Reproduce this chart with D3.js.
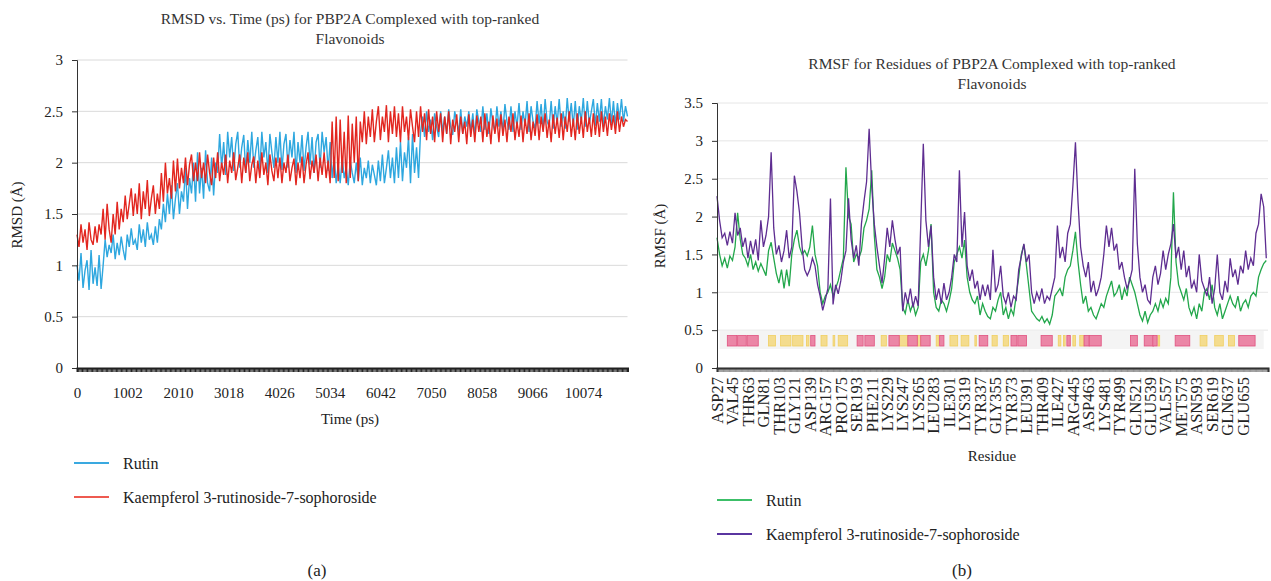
<!DOCTYPE html>
<html>
<head>
<meta charset="UTF-8">
<script src="https://cdnjs.cloudflare.com/ajax/libs/d3/7.8.5/d3.min.js"></script>
<style>
  html, body { margin: 0; padding: 0; background: #fff; }
  svg { display: block; }
</style>
</head>
<body>
<svg id="fig" width="1271" height="581"></svg>
<script>
// ---------- panel (a): RMSD vs time, one sample every 40 ps ----------
const rmsdStep = 40;
const rutinRmsd = [
  1.0, 0.85, 1.12, 0.78, 0.95, 1.05, 0.76, 1.15, 0.82, 0.98,
  0.8, 1.1, 0.77, 1.0, 1.25, 1.08, 1.2, 1.12, 1.3, 1.06,
  1.22, 1.1, 1.28, 1.15, 1.05, 1.3, 1.18, 1.36, 1.2, 1.25,
  1.15, 1.4, 1.22, 1.35, 1.18, 1.42, 1.25, 1.3, 1.2, 1.38,
  1.22, 1.45, 1.35, 1.6, 1.42, 1.7, 1.5, 1.78, 1.45, 1.65,
  1.8, 1.5, 1.72, 1.62, 1.95, 1.55, 1.85, 1.7, 2.0, 1.62,
  2.1, 1.7, 1.95, 1.65, 2.12, 1.8, 1.72, 2.05, 1.68, 2.0,
  1.9, 2.28, 1.95, 2.2, 1.88, 2.3, 2.05, 2.25, 1.92, 2.18,
  2.3, 1.95, 2.15, 2.27, 1.9, 2.22, 2.0, 2.3, 1.95, 2.12,
  2.25, 1.92, 2.3, 2.05, 2.2, 1.9, 2.28, 2.1, 1.95, 2.25,
  2.0, 2.3, 1.93, 2.18, 2.28, 1.95, 2.22, 2.05, 2.3, 1.9,
  2.2, 2.0, 2.27, 1.92, 2.15, 2.3, 1.98, 2.25, 1.9, 2.2,
  2.28, 1.95, 2.3, 2.1, 2.25, 1.92, 2.2, 1.85, 2.05, 1.8,
  1.98, 1.8, 2.05, 1.85, 1.95, 1.78, 2.02, 1.9, 1.8, 2.0,
  1.82, 2.05, 1.78, 1.95, 1.85, 2.02, 1.8, 1.98, 1.88, 1.78,
  2.02, 1.82, 2.08, 1.8, 1.95, 2.12, 1.85, 2.05, 1.8, 2.15,
  1.85, 2.2, 1.82, 2.1, 1.95, 2.25, 1.8, 2.28, 1.9, 2.15,
  1.85, 2.3, 2.45, 2.25, 2.5, 2.3, 2.42, 2.22, 2.48, 2.35,
  2.25, 2.5, 2.3, 2.45, 2.28, 2.52, 2.35, 2.27, 2.5, 2.4,
  2.3, 2.52, 2.28, 2.45, 2.35, 2.5, 2.3, 2.48, 2.26, 2.52,
  2.4, 2.3, 2.55, 2.32, 2.48, 2.28, 2.53, 2.38, 2.3, 2.55,
  2.35, 2.5, 2.3, 2.57, 2.4, 2.32, 2.55, 2.3, 2.5, 2.35,
  2.58, 2.32, 2.5, 2.36, 2.6, 2.3, 2.55, 2.4, 2.33, 2.6,
  2.38, 2.57, 2.32, 2.62, 2.4, 2.35, 2.6, 2.33, 2.55, 2.38,
  2.62, 2.35, 2.5, 2.33, 2.63, 2.4, 2.58, 2.35, 2.6, 2.32,
  2.55, 2.4, 2.63, 2.35, 2.6, 2.38, 2.5, 2.62, 2.36, 2.58,
  2.4, 2.62, 2.35, 2.55, 2.42, 2.63, 2.38, 2.6, 2.36, 2.58,
  2.42, 2.62, 2.4, 2.55, 2.45
];
const kaempRmsd = [
  1.3, 1.18, 1.4, 1.22, 1.35, 1.15, 1.42, 1.25, 1.2, 1.38,
  1.22, 1.4, 1.3, 1.55, 1.25, 1.6, 1.35, 1.22, 1.5, 1.3,
  1.62, 1.35, 1.55, 1.42, 1.68, 1.45, 1.6, 1.75, 1.48, 1.7,
  1.5, 1.8, 1.45, 1.72, 1.55, 1.83, 1.48, 1.65, 1.78, 1.5,
  1.7, 1.55, 1.9, 1.62, 2.0, 1.7, 1.85, 1.65, 2.02, 1.72,
  2.04, 1.75, 1.95, 1.8, 2.05, 1.78, 1.98, 2.08, 1.82, 2.0,
  1.82, 2.1, 1.85, 2.0, 1.8, 2.08, 1.9, 1.78, 2.05, 1.85,
  2.1, 1.82, 2.0, 1.88, 2.08, 1.8, 2.02, 1.9, 2.1, 1.83,
  1.95, 2.08, 1.8, 2.05, 1.9, 2.1, 1.82, 1.98, 2.06, 1.8,
  2.02, 1.85, 2.1, 1.88, 2.0, 1.78, 2.08, 1.92, 1.82, 2.05,
  1.85, 2.05, 1.8, 2.0, 1.9, 2.08, 1.82, 1.95, 2.04, 1.78,
  2.0, 1.85, 2.06, 1.8, 1.98, 2.1, 1.84, 2.02, 1.9, 2.08,
  1.82, 2.05, 1.88, 2.1, 1.85, 2.02, 1.8, 2.4, 1.85, 2.45,
  1.82, 2.42, 1.9, 2.3, 1.8, 2.46, 1.85, 2.38, 2.0, 2.45,
  1.82, 2.4, 2.2, 2.5, 2.18, 2.45, 2.25, 2.52, 2.2, 2.4,
  2.55, 2.22, 2.45, 2.3, 2.56, 2.2, 2.5, 2.28, 2.55, 2.25,
  2.48, 2.2, 2.55, 2.3, 2.45, 2.22, 2.52, 2.35, 2.2, 2.5,
  2.25, 2.55, 2.3, 2.48, 2.22, 2.52, 2.28, 2.45, 2.2, 2.5,
  2.3, 2.48, 2.2, 2.45, 2.28, 2.5, 2.18, 2.42, 2.3, 2.47,
  2.2, 2.45, 2.28, 2.4, 2.18, 2.47, 2.25, 2.42, 2.2, 2.46,
  2.3, 2.45, 2.2, 2.48, 2.25, 2.4, 2.18, 2.46, 2.28, 2.43,
  2.2, 2.47, 2.26, 2.42, 2.2, 2.45, 2.3, 2.48, 2.22, 2.4,
  2.25, 2.46, 2.2, 2.43, 2.28, 2.48, 2.22, 2.4, 2.26, 2.47,
  2.22, 2.45, 2.3, 2.48, 2.24, 2.42, 2.2, 2.47, 2.28, 2.44,
  2.24, 2.48, 2.22, 2.45, 2.3, 2.5, 2.25, 2.43, 2.22, 2.48,
  2.28, 2.45, 2.24, 2.5, 2.3, 2.44, 2.25, 2.48, 2.27, 2.46,
  2.25, 2.5, 2.3, 2.45, 2.26, 2.48, 2.32, 2.46, 2.28, 2.5,
  2.3, 2.45, 2.35, 2.42, 2.4
];
const timeTicks = [0, 1002, 2010, 3018, 4026, 5034, 6042, 7050, 8058, 9066, 10074];
const rmsdTicks = [0, 0.5, 1, 1.5, 2, 2.5, 3];

// ---------- panel (b): RMSF per residue, one sample every 3 residues ----------
const residueStep = 3;
const residueCount = 642;
const residueLabels = ["ASP27", "VAL45", "THR63", "GLN81", "THR103", "GLY121", "ASP139", "ARG157",
  "PRO175", "SER193", "PHE211", "LYS229", "LYS247", "LYS265", "LEU283", "ILE301", "LYS319",
  "TYR337", "GLY355", "TYR373", "LEU391", "THR409", "ILE427", "ARG445", "ASP463", "LYS481",
  "TYR499", "GLN521", "GLU539", "VAL557", "MET575", "ASN593", "SER619", "GLN637", "GLU655"];
const rutinRmsf = [
  1.72, 1.5, 1.35, 1.45, 1.32, 1.48, 1.42, 1.6, 2.05, 1.7,
  1.5, 1.45, 1.35, 1.5, 1.3, 1.4, 1.28, 1.38, 1.3, 1.22,
  1.55, 1.66, 1.45, 1.25, 1.12, 1.3, 1.05, 1.3, 1.08, 1.5,
  1.7, 1.82, 1.6, 1.5, 1.55, 1.48, 1.6, 1.88, 1.5, 1.35,
  1.0, 0.85, 0.95, 1.0, 1.1, 0.95, 1.05, 1.15, 1.3, 1.45,
  2.65, 2.0, 1.9, 1.4, 1.5, 1.45, 1.55, 1.85, 1.95, 2.1,
  2.61, 1.75, 1.3, 1.2, 1.05, 1.2, 1.5, 1.4, 1.65, 1.55,
  1.45, 1.3, 0.8, 0.72, 0.9, 0.75, 0.85, 0.7, 0.8, 1.4,
  1.5, 1.35, 1.55, 1.9, 1.0, 0.8, 0.75, 0.9, 0.85, 0.75,
  0.88, 1.05, 1.4, 1.5, 1.6, 1.45, 1.69, 1.2, 1.0, 0.9,
  0.85, 0.95, 0.7, 0.85, 0.75, 0.68, 0.65, 0.8, 0.75, 0.9,
  1.0, 0.7, 0.8, 0.65, 0.78, 0.7, 0.95, 1.2, 1.5, 1.63,
  1.35, 1.05, 0.75, 0.7, 0.65, 0.62, 0.68, 0.6, 0.65, 0.58,
  0.7, 0.95, 1.0, 1.05, 0.95, 1.2, 1.3, 1.35, 1.55, 1.8,
  1.4, 1.1, 0.85, 0.95, 0.75, 0.8, 0.7, 0.65, 0.75, 0.85,
  0.8, 0.95, 1.05, 1.15, 0.95, 1.0, 1.1, 0.9, 1.05, 0.95,
  1.2, 1.1, 1.0, 0.85, 0.7, 0.62, 0.75, 0.6, 0.7, 0.75,
  0.85, 0.75, 0.9, 0.8, 0.92, 0.85, 1.2, 2.32, 1.4, 1.1,
  1.0, 0.9, 1.05, 0.8, 0.7, 0.8, 0.65, 0.85, 0.75, 1.0,
  1.05, 0.9, 1.1, 0.8, 0.7, 0.85, 0.65, 0.75, 0.85, 0.95,
  0.85, 0.8, 0.95, 0.75, 0.85, 0.9, 0.8, 0.95, 1.0, 0.95,
  1.2, 1.3, 1.38, 1.42
];
const kaempRmsf = [
  2.27, 1.95, 1.72, 1.78, 1.62, 1.8, 1.65, 2.05, 1.75, 1.85,
  1.6, 1.72, 1.45, 1.68, 1.5, 1.7, 1.42, 1.95, 1.6, 1.75,
  2.0, 2.85, 1.85, 1.5, 1.62, 1.4, 1.55, 1.82, 1.45, 1.6,
  2.54, 2.33, 2.05, 1.6, 1.3, 1.22, 1.3, 1.45, 1.35, 1.1,
  0.95, 0.76, 0.9, 1.05, 2.24, 0.84, 1.1, 0.98, 1.15, 1.4,
  1.55, 2.24, 1.7, 1.45, 1.62, 1.35, 1.9, 2.2, 2.46, 3.16,
  2.4, 1.9, 1.6, 1.35, 1.12, 1.45, 1.85, 1.6, 1.95, 1.7,
  1.5, 1.6, 0.75, 1.0, 0.85, 1.05, 0.8, 0.95, 0.82, 1.88,
  2.96, 1.95, 1.6, 1.88, 1.2, 0.9, 1.05, 0.85, 1.12, 0.9,
  1.0, 1.2, 1.5, 1.4, 2.61, 1.6, 2.06, 1.35, 1.15, 1.3,
  1.05, 1.15, 0.9, 1.1, 0.95, 1.1, 0.9, 1.56, 1.0, 1.1,
  1.35, 0.95, 0.85, 1.0, 0.8, 0.95, 0.9, 1.3, 1.47, 1.64,
  1.4, 1.5, 1.0, 0.85, 1.0, 0.9, 1.05, 0.85, 0.95, 0.9,
  1.05, 1.2, 1.88, 1.45, 1.6, 1.4, 1.78, 1.9, 2.4, 2.98,
  2.19, 1.6, 1.35, 1.2, 1.4, 1.0, 1.15, 0.95, 1.05, 1.2,
  1.5, 1.88, 1.6, 1.85, 1.55, 1.64, 1.3, 1.4, 1.2, 1.05,
  1.15, 1.3, 2.63, 1.64, 1.2, 1.0, 1.1, 0.9, 0.85, 1.2,
  1.35, 1.1, 1.25, 1.55, 1.3, 1.5, 1.64, 1.9, 1.45, 1.6,
  1.3, 1.55, 1.2, 1.35, 1.05, 1.15, 1.0, 1.5, 1.15, 1.05,
  0.95, 1.2, 0.85, 1.05, 1.5, 1.0, 0.9, 1.15, 1.0, 1.45,
  1.2, 1.3, 1.1, 1.35, 1.25, 1.55, 1.3, 1.45, 1.35, 1.78,
  1.9, 2.3, 2.13, 1.45
];
const rmsfTicks = [0, 0.5, 1, 1.5, 2, 2.5, 3, 3.5];
// secondary structure, residue index ranges
const helixSegments = [[12, 23], [24, 34], [35, 48], [109, 114], [163, 170], [172, 183], [200, 212],
  [222, 233], [237, 248], [259, 264], [305, 315], [342, 349], [350, 360], [377, 390], [407, 411],
  [427, 433], [433, 447], [481, 489], [497, 508], [507, 512], [533, 550], [607, 626]];
const strandSegments = [[60, 68], [74, 86], [88, 100], [104, 107], [121, 128], [135, 137], [141, 152],
  [191, 197], [212, 222], [233, 237], [255, 258], [271, 280], [284, 293], [300, 301], [320, 326],
  [333, 339], [397, 400], [403, 405], [414, 417], [422, 427], [513, 515], [562, 570], [579, 589],
  [595, 602]];

const serif = "Liberation Serif, Times New Roman, serif";
const svg = d3.select("#fig").attr("font-family", serif);
const fs = 15;

function title(cx, y, lines) {
  svg.append("text").attr("x", cx).attr("y", y).attr("text-anchor", "middle")
    .attr("font-family", serif).attr("font-size", 15.5).attr("fill", "#333")
    .selectAll("tspan").data(lines).join("tspan")
      .attr("x", cx).attr("dy", (d, i) => i ? 20 : 0).text(d => d);
}

function label(x, y, txt, size, rot) {
  return svg.append("text")
    .attr("transform", `translate(${x},${y})` + (rot ? " rotate(-90)" : ""))
    .attr("text-anchor", "middle").attr("dy", "0.35em")
    .attr("font-family", serif).attr("font-size", size).attr("fill", "#222").text(txt);
}

function legend(x, y, items) {
  items.forEach((it, i) => {
    const yy = y + i * 34;
    svg.append("line").attr("x1", x).attr("x2", x + 35).attr("y1", yy).attr("y2", yy)
      .attr("stroke", it.color).attr("stroke-width", 2);
    svg.append("text").attr("x", x + 49).attr("y", yy).attr("dy", "0.35em")
      .attr("font-family", serif).attr("font-size", 16).attr("fill", "#222").text(it.name);
  });
}

function styleAxis(g) {
  g.attr("font-family", serif).attr("font-size", fs);
  g.selectAll("path, line").attr("stroke", "#333");
  g.selectAll("text").attr("fill", "#222");
}

// ================= panel (a) =================
const xA = d3.scaleLinear().domain([0, 10960]).range([77, 627.5]);
const yA = d3.scaleLinear().domain([0, 3]).range([368, 60]);

title(350, 24, ["RMSD vs. Time (ps) for PBP2A Complexed with top-ranked", "Flavonoids"]);

const gA = svg.append("g");
gA.append("g").selectAll("line").data(rmsdTicks.slice(1)).join("line")
  .attr("x1", xA.range()[0]).attr("x2", xA.range()[1])
  .attr("y1", d => yA(d)).attr("y2", d => yA(d))
  .attr("stroke", "#dadada").attr("stroke-width", 1);

const lineA = d3.line().x((d, i) => xA(i * rmsdStep)).y(d => yA(d));
gA.append("path").datum(rutinRmsd).attr("d", lineA)
  .attr("fill", "none").attr("stroke", "#2ea7df").attr("stroke-width", 1.4);
gA.append("path").datum(kaempRmsd).attr("d", lineA)
  .attr("fill", "none").attr("stroke", "#e2261f").attr("stroke-width", 1.4);

gA.append("g").attr("transform", `translate(${xA.range()[0]},0)`)
  .call(d3.axisLeft(yA).tickValues(rmsdTicks).tickSize(5).tickPadding(9).tickFormat(d => d))
  .call(styleAxis);

gA.append("g").attr("transform", `translate(0,${yA(0)})`)
  .call(d3.axisBottom(xA).tickValues(d3.range(0, 10961, 25)).tickSize(4).tickFormat(""))
  .call(g => g.selectAll("path, line").attr("stroke", "#222"))
  .call(g => g.select(".domain").attr("stroke-width", 2));

gA.append("g").attr("transform", `translate(0,${yA(0)})`)
  .call(d3.axisBottom(xA).tickValues(timeTicks).tickSize(0).tickPadding(19).tickFormat(d => d))
  .call(g => g.select(".domain").remove())
  .call(styleAxis);

label(350, 419, "Time (ps)", fs);
label(17, 215, "RMSD (Å)", fs, true);

legend(74, 463, [{name: "Rutin", color: "#3aa9e0"},
                 {name: "Kaempferol 3-rutinoside-7-sophoroside", color: "#ee5a50"}]);
label(317, 570, "(a)", 17);

// ================= panel (b) =================
const xB = d3.scaleLinear().domain([0, residueCount - 1]).range([717, 1268]);
const yB = d3.scaleLinear().domain([0, 3.5]).range([368, 103]);

title(992, 69, ["RMSF for Residues of PBP2A Complexed with top-ranked", "Flavonoids"]);

const gB = svg.append("g");
gB.append("g").selectAll("line").data(rmsfTicks.slice(1)).join("line")
  .attr("x1", xB.range()[0]).attr("x2", xB.range()[1])
  .attr("y1", d => yB(d)).attr("y2", d => yB(d))
  .attr("stroke", "#e6e6e6").attr("stroke-width", 1);

// secondary structure strip
gB.append("rect").attr("x", xB(3)).attr("width", xB(636) - xB(3))
  .attr("y", 331).attr("height", 18).attr("fill", "#f4f4f4");
gB.append("g").selectAll("rect").data(strandSegments).join("rect")
  .attr("x", d => xB(d[0])).attr("width", d => Math.max(1.5, xB(d[1]) - xB(d[0])))
  .attr("y", 335.5).attr("height", 10.5)
  .attr("fill", "#f4dc8e").attr("stroke", "#f0cf60").attr("stroke-width", 0.8);
gB.append("g").selectAll("rect").data(helixSegments).join("rect")
  .attr("x", d => xB(d[0])).attr("width", d => xB(d[1]) - xB(d[0]))
  .attr("y", 335.5).attr("height", 10.5)
  .attr("fill", "#eb86a6").attr("stroke", "#e0527f").attr("stroke-width", 0.8);

const lineB = d3.line().x((d, i) => xB(i * residueStep)).y(d => yB(d));
gB.append("path").datum(rutinRmsf).attr("d", lineB)
  .attr("fill", "none").attr("stroke", "#22a74b").attr("stroke-width", 1.3);
gB.append("path").datum(kaempRmsf).attr("d", lineB)
  .attr("fill", "none").attr("stroke", "#5e2d91").attr("stroke-width", 1.3);

gB.append("g").attr("transform", `translate(${xB.range()[0]},0)`)
  .call(d3.axisLeft(yB).tickValues(rmsfTicks).tickSize(5).tickPadding(9).tickFormat(d => d))
  .call(styleAxis);

gB.append("g").attr("transform", `translate(0,${yB(0)})`)
  .call(d3.axisBottom(xB).tickValues(d3.range(0, residueCount, 1)).tickSize(4).tickFormat(""))
  .call(g => g.selectAll("line").attr("stroke", "#444").attr("stroke-width", 0.5))
  .call(g => g.select(".domain").attr("stroke", "#222").attr("stroke-width", 2));

gB.append("g").selectAll("text").data(residueLabels).join("text")
  .attr("transform", (d, i) => `translate(${xB(i * 18)},377) rotate(-90)`)
  .attr("text-anchor", "end").attr("dy", "0.35em")
  .attr("font-family", serif).attr("font-size", 16.5).attr("fill", "#222").text(d => d);

label(992, 456, "Residue", fs);
label(660, 236, "RMSF (Å)", fs, true);

legend(717, 500, [{name: "Rutin", color: "#3cbf68"},
                  {name: "Kaempferol 3-rutinoside-7-sophoroside", color: "#5a35a0"}]);
label(962, 570, "(b)", 17);
</script>
</body>
</html>
